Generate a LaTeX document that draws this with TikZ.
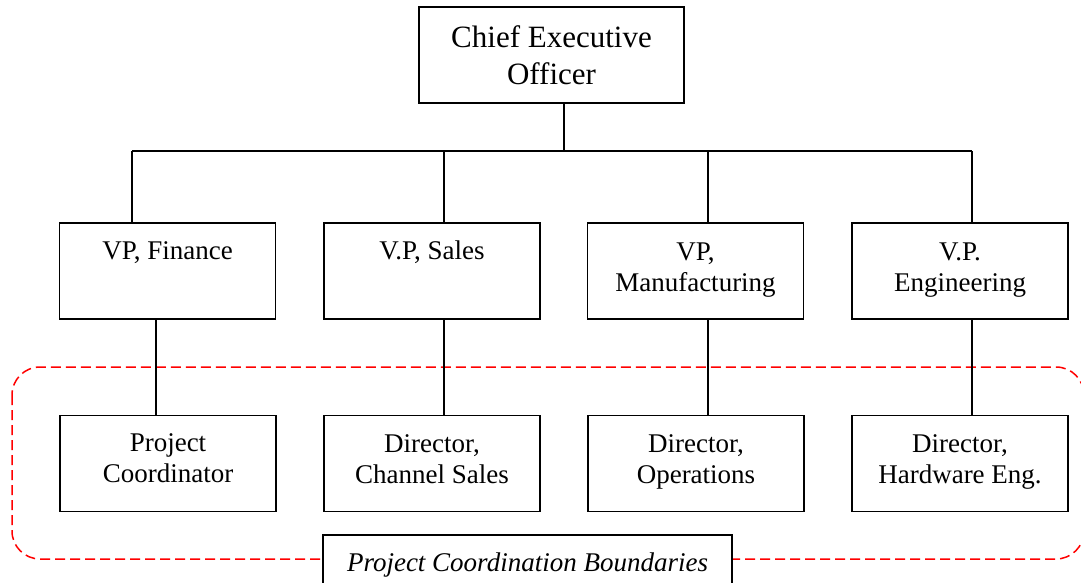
\documentclass[tikz,border=0pt]{standalone}
\usepackage{fontspec}
\setmainfont{LiberationSerif}[Extension=.ttf, UprightFont=*-Regular, ItalicFont=*-Italic, BoldFont=*-Bold, BoldItalicFont=*-BoldItalic]
\begin{document}
\begin{tikzpicture}[x=1pt,y=-1pt,
  box/.style={draw=black, line width=1.7pt, inner sep=0pt, minimum width=216pt, minimum height=96pt},
  txt/.style={anchor=north, inner sep=0pt, align=center, font=\fontsize{27}{31}\selectfont},
  conn/.style={draw=black, line width=1.7pt},
  boundary/.style={draw=red, line width=1.5pt, dash pattern=on 10pt off 5pt, rounded corners=28pt}]
\useasboundingbox (0,0) rectangle (1081,583);
\fill[white] (0,0) rectangle (1081,583);

% boundary
\draw[boundary] (12,367) rectangle (1084,559);

% CEO
\node[box, minimum width=265pt] (ceo) at (551.5,55) {};
\node[txt, font=\fontsize{31}{37}\selectfont] (ceot) at ([yshift=-15pt]ceo.north) {\strut Chief Executive\\Officer};

% VPs
\node[box] (vpf) at (167.5,271) {};
\node[box] (vps) at (432,271) {};
\node[box] (vpm) at (695.5,271) {};
\node[box] (vpe) at (960,271) {};
\node[txt] (vpft) at ([yshift=-15pt]vpf.north) {\strut VP, Finance};
\node[txt] (vpst) at ([yshift=-15pt]vps.north) {\strut V.P, Sales};
\node[txt] (vpmt) at ([yshift=-16pt]vpm.north) {\strut VP,\\Manufacturing};
\node[txt] (vpet) at ([yshift=-16pt]vpe.north) {\strut V.P.\\Engineering};

% Directors
\node[box] (dpc) at (168,463.5) {};
\node[box] (dcs) at (432,463.5) {};
\node[box] (dop) at (696,463.5) {};
\node[box] (dhw) at (960,463.5) {};
\node[txt] (dpct) at ([yshift=-15pt]dpc.north) {\strut Project\\Coordinator};
\node[txt] (dcst) at ([yshift=-16pt]dcs.north) {\strut Director,\\Channel Sales};
\node[txt] (dopt) at ([yshift=-16pt]dop.north) {\strut Director,\\Operations};
\node[txt] (dhwt) at ([yshift=-16pt]dhw.north) {\strut Director,\\Hardware Eng.};

% connectors
\coordinate (bar) at (564,151);
\coordinate (u1) at ([xshift=-35.5pt]vpf.north);
\coordinate (u2) at ([xshift=12pt]vps.north);
\coordinate (u3) at ([xshift=12.5pt]vpm.north);
\coordinate (u4) at ([xshift=12pt]vpe.north);
\draw[conn] (ceo.south -| bar) -- (bar);
\draw[conn] (u1 |- bar) -- (u4 |- bar);
\draw[conn] (u1 |- bar) -- (u1);
\draw[conn] (u2 |- bar) -- (u2);
\draw[conn] (u3 |- bar) -- (u3);
\draw[conn] (u4 |- bar) -- (u4);

\coordinate (l1) at ([xshift=-11.5pt]vpf.south);
\coordinate (l2) at ([xshift=12pt]vps.south);
\coordinate (l3) at ([xshift=12.5pt]vpm.south);
\coordinate (l4) at ([xshift=12pt]vpe.south);
\draw[conn] (l1) -- (l1 |- dpc.north);
\draw[conn] (l2) -- (l2 |- dcs.north);
\draw[conn] (l3) -- (l3 |- dop.north);
\draw[conn] (l4) -- (l4 |- dhw.north);

% label
\node[draw=black, line width=1.7pt, fill=white, minimum width=409pt, minimum height=60pt, inner sep=0pt,
  font=\fontsize{27}{31}\selectfont\itshape] (lbl) at (527.5,565) {Project Coordination Boundaries};
\end{tikzpicture}
\end{document}
